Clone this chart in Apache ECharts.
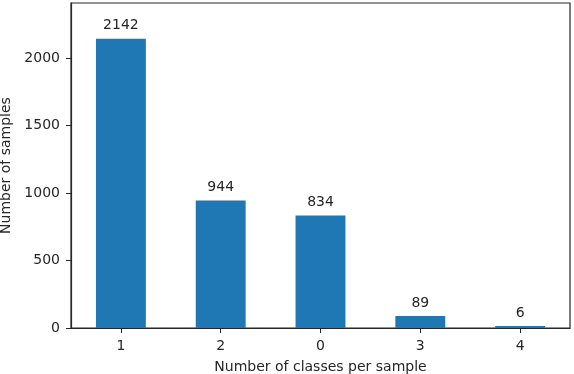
<!DOCTYPE html>
<html>
<head>
<meta charset="utf-8">
<script src="https://cdn.jsdelivr.net/npm/echarts@6/dist/echarts.min.js"></script>
<style>html,body{margin:0;padding:0;background:#fff;}#c{width:574px;height:374px;}</style>
</head>
<body>
<div id="c"></div>
<script>
const categories = ['1', '2', '0', '3', '4'];
const counts = [2142, 944, 834, 89, 6];
const yTicks = [0, 500, 1000, 1500, 2000];

const chart = echarts.init(document.getElementById('c'), null, {renderer: 'canvas'});
const txt = '#262626';
const font = 'DejaVu Sans';
chart.setOption({
  animation: false,
  backgroundColor: '#fff',
  grid: {left: 71, right: 4, top: 3, bottom: 46, outerBoundsMode: 'none', containLabel: false,
    show: true, borderColor: '#262626', borderWidth: 1.2},
  xAxis: {
    type: 'category',
    data: categories,
    boundaryGap: true,
    name: 'Number of classes per sample',
    nameLocation: 'middle',
    nameGap: 32,
    nameTextStyle: {color: txt, fontFamily: font, fontSize: 14},
    axisLine: {show: true, lineStyle: {color: '#262626', width: 1.2}},
    axisTick: {show: true, alignWithLabel: true, length: 5, lineStyle: {color: '#262626'}},
    axisLabel: {color: txt, fontFamily: font, fontSize: 14, margin: 11},
    splitLine: {show: false}
  },
  yAxis: {
    type: 'value',
    min: 0,
    max: 2407,
    interval: 500,
    name: 'Number of samples',
    nameLocation: 'middle',
    nameGap: 51,
    nameTextStyle: {color: txt, fontFamily: font, fontSize: 14},
    axisLine: {show: true, lineStyle: {color: '#262626', width: 1.2}},
    axisTick: {show: true, length: 5, lineStyle: {color: '#262626'}},
    axisLabel: {color: txt, fontFamily: font, fontSize: 14, margin: 11, showMaxLabel: false,
      formatter: v => (yTicks.indexOf(v) >= 0 ? String(v) : '')},
    splitLine: {show: false}
  },
  series: [{
    type: 'bar',
    data: counts,
    barWidth: '50%',
    barMinHeight: 2,
    itemStyle: {color: '#1f77b4'},
    label: {show: true, position: 'top', distance: 6, color: txt, fontFamily: font, fontSize: 14}
  }]
});
</script>
</body>
</html>
